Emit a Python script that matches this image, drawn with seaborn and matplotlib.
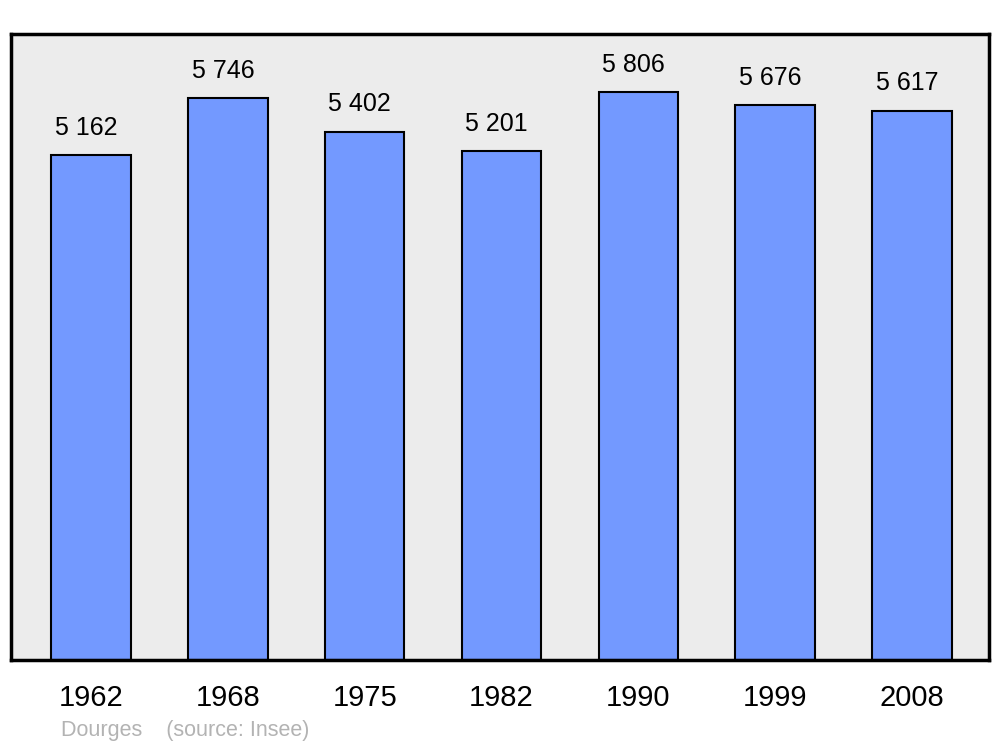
import pandas as pd
import seaborn as sns
import matplotlib.pyplot as plt

# population de Dourges (source: Insee)
years = ["1962", "1968", "1975", "1982", "1990", "1999", "2008"]
population = [5162, 5746, 5402, 5201, 5806, 5676, 5617]
labels = ["5 162", "5 746", "5 402", "5 201", "5 806", "5 676", "5 617"]

df = pd.DataFrame({"year": years, "pop": population})

sns.set_style("white")
plt.rcParams["font.family"] = ["Liberation Sans", "DejaVu Sans"]
plt.rcParams["text.color"] = "black"
plt.rcParams["xtick.color"] = "black"

fig = plt.figure(figsize=(10, 7.47), dpi=100)
ax = fig.add_axes([0.011, 0.1165, 0.978, 0.838])
ax.set_facecolor("#ececec")

sns.barplot(data=df, x="year", y="pop", color="#7399ff", saturation=1,
            width=0.58, edgecolor="black", linewidth=1.5, ax=ax)

for i, (v, lab) in enumerate(zip(population, labels)):
    ax.annotate(lab, (i, v), xytext=(-3.5, 11), textcoords="offset points",
                ha="center", va="bottom", fontsize=18, color="black")

ax.set_ylim(0, 6400)
ax.set_xlim(-0.585, 6.563)
ax.set_yticks([])
ax.set_xlabel("")
ax.set_ylabel("")
ax.tick_params(axis="x", length=0, pad=17, labelsize=21, labelcolor="black")
for s in ax.spines.values():
    s.set_visible(True)
    s.set_color("black")
    s.set_linewidth(2.5)

fig.text(0.061, 0.008, "Dourges    (source: Insee)", color="#b3b3b3",
         fontsize=15.5, ha="left", va="bottom")

fig.savefig("out.png", dpi=100)
